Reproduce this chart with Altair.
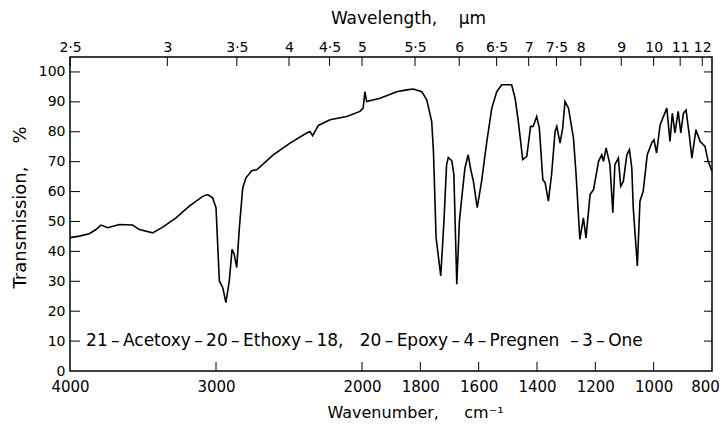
import altair as alt
import pandas as pd

# ---- spectrum ----
wavenumber = [4000, 3936, 3868, 3822, 3788, 3742, 3662, 3571, 3525, 3434, 3365, 3274, 3183, 3091,
              3057, 3023, 3000, 2977, 2954, 2932, 2909, 2890, 2875, 2858, 2840, 2817, 2795, 2755,
              2721, 2608, 2493, 2379, 2356, 2338, 2299, 2219, 2105, 2014, 1996, 1990, 1984, 1938,
              1881, 1847, 1824, 1795, 1778, 1761, 1755, 1746, 1730, 1719, 1710, 1704, 1692, 1685,
              1675, 1666, 1658, 1647, 1636, 1627, 1618, 1605, 1590, 1572, 1555, 1538, 1521, 1487,
              1475, 1464, 1449, 1435, 1422, 1413, 1401, 1392, 1380, 1372, 1361, 1350, 1338, 1332,
              1321, 1312, 1304, 1292, 1275, 1266, 1253, 1241, 1232, 1218, 1206, 1189, 1178, 1172,
              1163, 1150, 1140, 1133, 1121, 1113, 1104, 1092, 1083, 1075, 1070, 1056, 1047, 1036,
              1022, 1007, 999, 990, 978, 955, 944, 936, 927, 916, 907, 898, 889, 878,
              869, 855, 841, 824, 813, 800]
transmission = [44.6, 45.1, 45.9, 47.3, 48.8, 47.9, 49.0, 48.8, 47.3, 46.2, 48.1, 51.2, 55.1, 58.4,
                59.0, 57.9, 54.6, 30.1, 27.9, 22.9, 30.1, 40.7, 39.0, 34.6, 47.9, 61.2, 64.6, 67.0,
                67.3, 72.3, 76.2, 79.6, 80.1, 78.7, 82.1, 84.0, 85.1, 86.8, 87.9, 93.4, 90.1, 91.2,
                93.4, 94.0, 94.3, 93.4, 90.7, 83.4, 73.4, 44.6, 31.8, 50.1, 69.0, 71.4, 70.3, 65.7,
                29.0, 50.1, 57.9, 67.9, 72.3, 67.3, 63.4, 54.6, 63.4, 76.8, 87.9, 93.4, 95.7, 95.7,
                91.2, 83.4, 70.7, 71.8, 81.8, 81.8, 85.1, 81.2, 64.0, 62.9, 56.8, 65.7, 80.1, 81.8,
                76.2, 81.2, 90.1, 87.9, 77.9, 65.7, 44.0, 51.2, 44.5, 59.0, 60.7, 70.1, 72.3, 70.1,
                74.6, 69.0, 52.9, 69.0, 71.2, 61.8, 63.4, 72.3, 74.0, 67.9, 54.6, 35.1, 56.8, 60.1,
                72.3, 76.2, 77.3, 72.9, 82.3, 87.9, 76.8, 86.2, 79.6, 86.8, 79.6, 86.2, 87.3, 79.0,
                71.2, 80.7, 76.8, 75.1, 70.1, 66.8]

# ---- axis ticks ----
wavenumber_ticks = [4000, 3000, 2000, 1800, 1600, 1400, 1200, 1000, 800]
wavelength_ticks = [2.5, 3, 3.5, 4, 4.5, 5, 5.5, 6, 6.5, 7, 7.5, 8, 9, 10, 11, 12]
transmission_ticks = [0, 10, 20, 30, 40, 50, 60, 70, 80, 90, 100]

TS = "\u2009"
compound = ("21" + TS + "–" + TS + "Acetoxy" + TS + "–" + TS + "20" + TS + "–" + TS + "Ethoxy"
            + TS + "–" + TS + "18,\u00a0\u00a0\u00a020" + TS + "–" + TS + "Epoxy" + TS + "–" + TS
            + "4" + TS + "–" + TS + "Pregnen\u00a0\u00a0–" + TS + "3" + TS + "–" + TS + "One")
compound_pos = {"wn": 3890, "T": 10}

FONT = "DejaVu Sans"
W, H = 642, 314

spec_df = pd.DataFrame({"wn": wavenumber, "T": transmission})
bottom_df = pd.DataFrame({"wn": wavenumber_ticks[1:-1]})
top_df = pd.DataFrame({"wn": [10000.0 / w for w in wavelength_ticks]})
ytick_df = pd.DataFrame({"T": transmission_ticks[1:]})
label_df = pd.DataFrame({"wn": [compound_pos["wn"]], "T": [compound_pos["T"]], "txt": [compound]})

xscale = alt.Scale(type="linear", domain=[4000, 2000, 800], range=[0, 292, W], zero=False, nice=False)
yscale = alt.Scale(domain=[0, 105], zero=False, nice=False)

common_axis = dict(ticks=False, tickSize=0, domain=False, grid=False, labelColor="black",
                   labelFont=FONT, titleFont=FONT, titleColor="black", titleFontWeight="normal",
                   labelFlush=False, labelOverlap=False)

line = alt.Chart(spec_df).mark_line(color="black", strokeWidth=1.6).encode(
    x=alt.X("wn:Q", scale=xscale, axis=alt.Axis(
        orient="bottom", values=wavenumber_ticks, format="d",
        title="Wavenumber,\u00a0\u00a0\u00a0\u00a0\u00a0cm⁻¹", labelFontSize=15,
        labelOffset={"condition": {"test": "datum.value == 800", "value": -7}, "value": 0},
        labelPadding=8, titleFontSize=16, titleX=345, titleY=41, titleAlign="center",
        titleBaseline="middle", **common_axis)),
    y=alt.Y("T:Q", scale=yscale, axis=alt.Axis(
        orient="left", values=transmission_ticks, format="d",
        title="Transmission,\u00a0\u00a0\u00a0\u00a0%", labelFontSize=14,
        labelPadding=5, titleFontSize=18, titleX=-50, titleY=150, titleAlign="center",
        titleBaseline="middle", **common_axis)),
)

top_ticks = alt.Chart(top_df).mark_rule(color="black", strokeWidth=1).encode(
    x=alt.X("wn:Q", scale=xscale, axis=alt.Axis(
        orient="top", values=[10000.0 / w for w in wavelength_ticks],
        labelExpr="replace(format(10000/datum.value, '.2~f'), '.', '·')",
        title="Wavelength,\u00a0\u00a0\u00a0\u00a0μm", labelFontSize=14, labelPadding=3,
        titleFontSize=17, titleX=338, titleY=-39, titleAlign="center", titleBaseline="middle",
        **common_axis)),
    y=alt.value(0), y2=alt.value(9),
)

bottom_ticks = alt.Chart(bottom_df).mark_rule(color="black", strokeWidth=1).encode(
    x=alt.X("wn:Q", scale=xscale, axis=None),
    y=alt.value(H - 9), y2=alt.value(H),
)

left_ticks = alt.Chart(ytick_df).mark_rule(color="black", strokeWidth=1).encode(
    y=alt.Y("T:Q", scale=yscale, axis=None),
    x=alt.value(0), x2=alt.value(10),
)
right_ticks = alt.Chart(ytick_df).mark_rule(color="black", strokeWidth=1).encode(
    y=alt.Y("T:Q", scale=yscale, axis=None),
    x=alt.value(W - 8), x2=alt.value(W),
)

label = alt.Chart(label_df).mark_text(align="left", baseline="middle", font=FONT, fontSize=17,
                                      color="black").encode(
    x=alt.X("wn:Q", scale=xscale, axis=None),
    y=alt.Y("T:Q", scale=yscale, axis=None),
    text="txt:N",
)

chart = alt.layer(line, top_ticks, bottom_ticks, left_ticks, right_ticks, label).resolve_axis(
    x="independent", y="independent"
).properties(
    width=W, height=H,
    autosize=alt.AutoSizeParams(type="none"),
    padding={"left": 62, "top": 49, "right": 8, "bottom": 49},
    background="white",
).configure_view(stroke="black", strokeWidth=1.5)

chart.save("out.html", embed_options={"renderer": "svg", "actions": False})
